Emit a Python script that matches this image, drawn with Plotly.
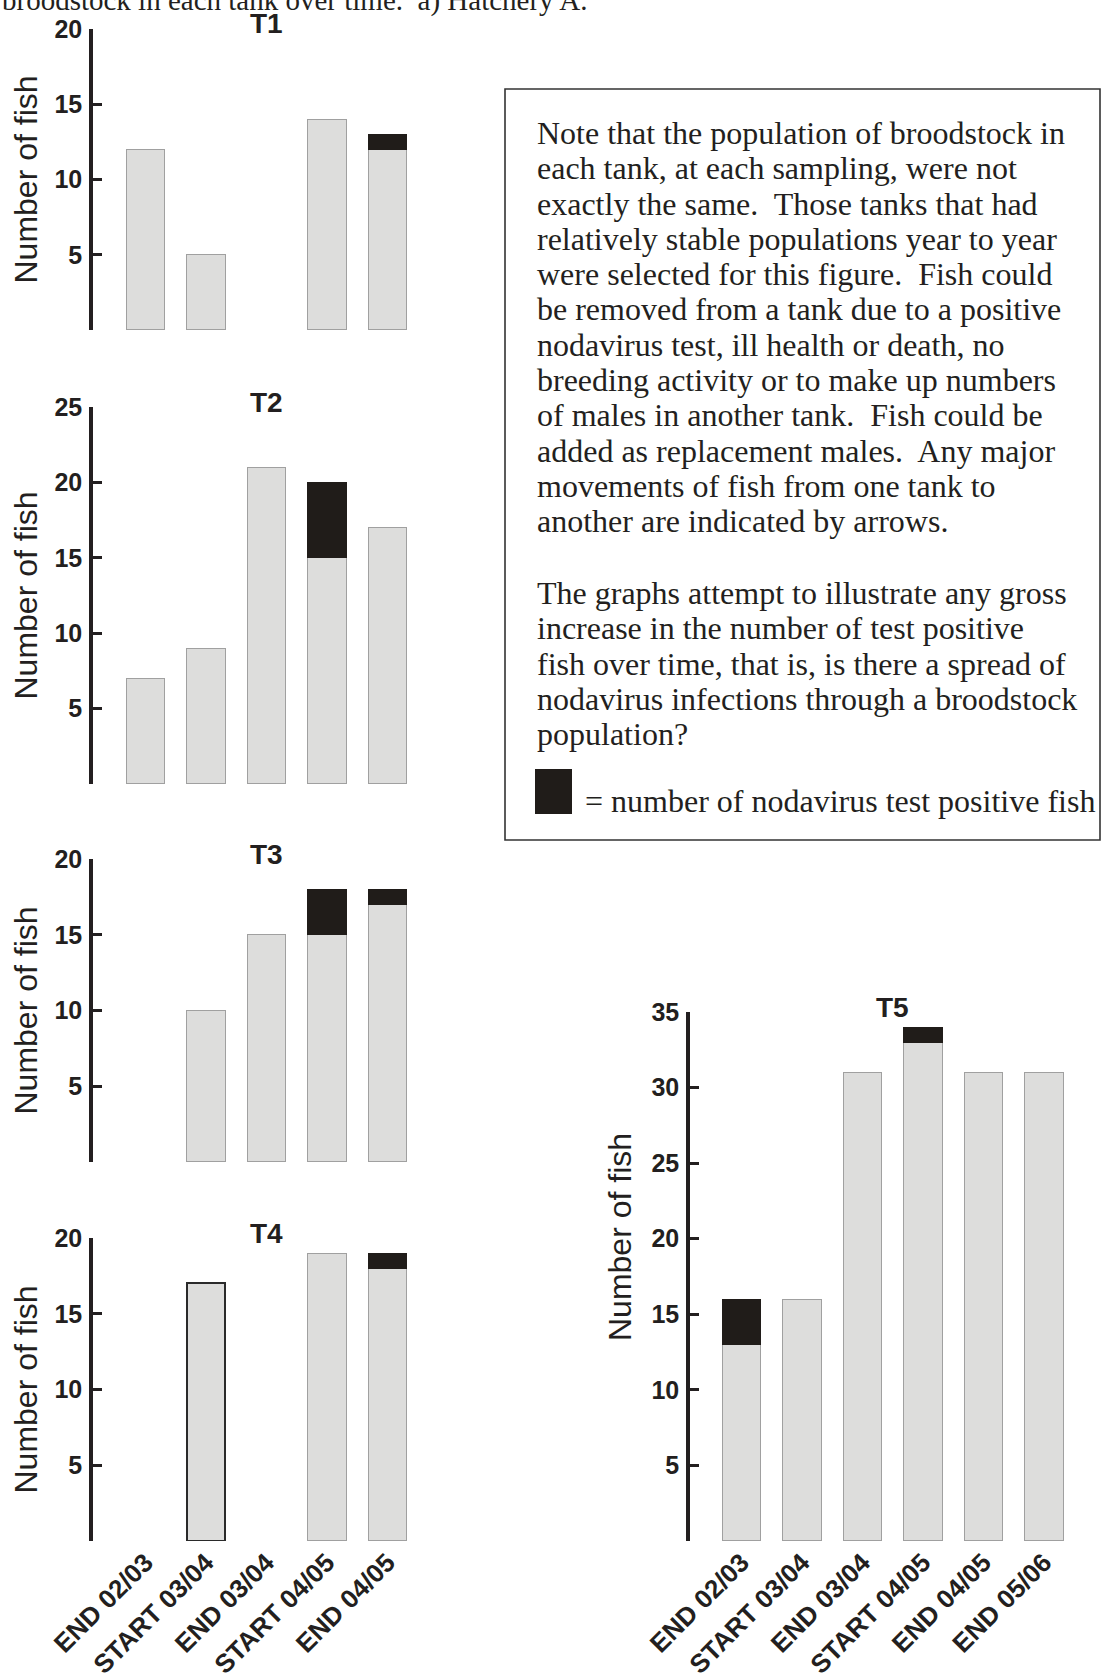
import plotly.graph_objects as go

W, H = 1103, 1679

# ---------------- data ----------------
CATS_A = ["END 02/03", "START 03/04", "END 03/04", "START 04/05", "END 04/05"]
CATS_T5 = ["END 02/03", "START 03/04", "END 03/04", "START 04/05", "END 04/05", "END 05/06"]

# grey = test-negative fish, black = nodavirus test-positive fish
T1_NEG = [12, 5, None, 14, 12]
T1_POS = [None, None, None, None, 1]
T2_NEG = [7, 9, 21, 15, 17]
T2_POS = [None, None, None, 5, None]
T3_NEG = [None, 10, 15, 15, 17]
T3_POS = [None, None, None, 3, 1]
T4_NEG = [None, 17, None, 19, 18]
T4_POS = [None, None, None, None, 1]
T5_NEG = [13, 16, 31, 33, 31, 31]
T5_POS = [3, None, None, 1, None, None]

YMAX = {"T1": 20, "T2": 25, "T3": 20, "T4": 20, "T5": 35}
Y_TICK_STEP = 5

NOTE_BLOCK1 = [
    "Note that the population of broodstock in",
    "each tank, at each sampling, were not",
    "exactly the same.\u00a0 Those tanks that had",
    "relatively stable populations year to year",
    "were selected for this figure.\u00a0 Fish could",
    "be removed from a tank due to a positive",
    "nodavirus test, ill health or death, no",
    "breeding activity or to make up numbers",
    "of males in another tank.\u00a0 Fish could be",
    "added as replacement males.\u00a0 Any major",
    "movements of fish from one tank to",
    "another are indicated by arrows.",
]
NOTE_BLOCK2 = [
    "The graphs attempt to illustrate any gross",
    "increase in the number of test positive",
    "fish over time, that is, is there a spread of",
    "nodavirus infections through a broodstock",
    "population?",
]
LEGEND_TEXT = "= number of nodavirus test positive fish"
TOP_TEXT = "broodstock in each tank over time.\u00a0 a) Hatchery A."

# ---------------- styling ----------------
GRAY = "#dddddc"
GRAY_EDGE = "#a0a0a0"
BLACK = "#201c19"
INK = "#231f20"
YTICK_FONT = dict(family="Liberation Sans", size=25, color=INK, weight="bold")
XTICK_FONT = dict(family="Liberation Sans", size=26, color=INK, weight="bold")
SERIF = dict(family="Liberation Serif", size=32, color=INK)


def px(x):
    return x / W


def py(y):
    return 1 - y / H


SPACING = 60.5
panels = [
    ("T1", CATS_A, T1_NEG, T1_POS, 93, 430, 145.5, 29, 330, False),
    ("T2", CATS_A, T2_NEG, T2_POS, 93, 430, 145.5, 407, 784, False),
    ("T3", CATS_A, T3_NEG, T3_POS, 93, 430, 145.5, 859, 1162, False),
    ("T4", CATS_A, T4_NEG, T4_POS, 93, 430, 145.5, 1238, 1541, True),
    ("T5", CATS_T5, T5_NEG, T5_POS, 690, 1090, 741.5, 1012, 1541, True),
]
EDGE_STYLE = {"T4": [GRAY_EDGE, "#2a2a2a", GRAY_EDGE, GRAY_EDGE, GRAY_EDGE]}
EDGE_WIDTH = {"T4": [1.2, 2.0, 1.2, 1.2, 1.2]}

fig = go.Figure()
annotations = []
for k, (name, cats, neg, pos, xl, xr, c0, yt, yb, showx) in enumerate(panels, start=1):
    xa = "x" if k == 1 else f"x{k}"
    ya = "y" if k == 1 else f"y{k}"
    edge = EDGE_STYLE.get(name, GRAY_EDGE)
    ew = EDGE_WIDTH.get(name, 1.2)
    fig.add_trace(go.Bar(x=cats, y=neg, xaxis=xa, yaxis=ya, width=0.64,
                         marker=dict(color=GRAY, line=dict(color=edge, width=ew)),
                         showlegend=False, hoverinfo="x+y"))
    fig.add_trace(go.Bar(x=cats, y=pos, xaxis=xa, yaxis=ya, width=0.64,
                         marker=dict(color=BLACK, line=dict(color=BLACK, width=1)),
                         showlegend=False, hoverinfo="x+y"))
    r0 = -(c0 - xl) / SPACING
    r1 = r0 + (xr - xl) / SPACING
    ymax = YMAX[name]
    tv = list(range(0, ymax + 1, Y_TICK_STEP))
    tt = [""] + [str(v) for v in tv[1:]]
    fig.layout[f"xaxis{k if k > 1 else ''}"] = dict(
        domain=[px(xl), px(xr)], range=[r0, r1], type="category",
        categoryorder="array", categoryarray=cats, anchor=ya, automargin=False,
        showline=False, showgrid=False, zeroline=False, ticks="",
        showticklabels=showx, tickangle=-45, tickfont=XTICK_FONT, fixedrange=True)
    fig.layout[f"yaxis{k if k > 1 else ''}"] = dict(
        domain=[py(yb), py(yt)], range=[0, ymax], anchor=xa, automargin=False,
        showline=True, linecolor=INK, linewidth=3.5, ticks="inside",
        ticklen=9, tickwidth=2.5, tickcolor=INK, tickvals=tv, ticktext=tt,
        tickfont=YTICK_FONT, ticklabelstandoff=2, showgrid=False, zeroline=False,
        fixedrange=True)
    mid = c0 + SPACING * (len(cats) - 1) / 2
    annotations.append(dict(text=f"<b>{name}</b>", x=px(mid), y=py(yt - 5), xref="paper", yref="paper",
                            showarrow=False, xanchor="center", yanchor="middle",
                            font=dict(family="Liberation Sans", size=28, color=INK)))
    if name == "T5":
        tx, ty = 620, 1237
    else:
        tx, ty = 25, (yt + yb) / 2
    annotations.append(dict(text="Number of fish", x=px(tx), y=py(ty), xref="paper", yref="paper",
                            showarrow=False, textangle=-90, xanchor="center", yanchor="middle",
                            font=dict(family="Liberation Sans", size=32, color=INK)))

for i, line in enumerate(NOTE_BLOCK1):
    annotations.append(dict(text=line, x=px(535), y=py(133 + 35.3 * i), xref="paper", yref="paper",
                            showarrow=False, xanchor="left", yanchor="middle", font=SERIF))
for i, line in enumerate(NOTE_BLOCK2):
    annotations.append(dict(text=line, x=px(535), y=py(593 + 35.3 * i), xref="paper", yref="paper",
                            showarrow=False, xanchor="left", yanchor="middle", font=SERIF))
annotations.append(dict(text=LEGEND_TEXT, x=px(583), y=py(801), xref="paper", yref="paper",
                        showarrow=False, xanchor="left", yanchor="middle", font=SERIF))
annotations.append(dict(text=TOP_TEXT, x=px(0), y=py(0.5), xref="paper", yref="paper",
                        showarrow=False, xanchor="left", yanchor="middle",
                        font=dict(family="Liberation Serif", size=29, color=INK)))

shapes = [
    dict(type="rect", xref="paper", yref="paper", x0=px(505), x1=px(1100), y0=py(840), y1=py(89),
         line=dict(color="#333333", width=1.6), fillcolor="rgba(0,0,0,0)", layer="below"),
    dict(type="rect", xref="paper", yref="paper", x0=px(535), x1=px(572), y0=py(814), y1=py(769),
         line=dict(color=BLACK, width=0), fillcolor=BLACK),
]

fig.update_layout(template="none", width=W, height=H, margin=dict(l=0, r=0, t=0, b=0, pad=0),
                  paper_bgcolor="white", plot_bgcolor="white", barmode="stack",
                  annotations=annotations, shapes=shapes)

fig.write_html("out.html")
